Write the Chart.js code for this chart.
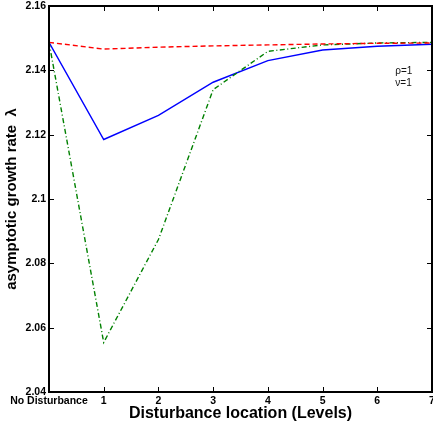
<!DOCTYPE html>
<html><head><meta charset="utf-8">
<script src="https://cdn.jsdelivr.net/npm/chart.js@4"></script>
<style>html,body{margin:0;padding:0;background:#fff}#wrap{width:433px;height:430px}</style>
</head><body><div id="wrap"><canvas id="c" width="433" height="430"></canvas></div>
<script>
const levels = [0, 1, 2, 3, 4, 5, 6, 7];
const xTickLabels = ["No Disturbance", "1", "2", "3", "4", "5", "6", "7"];
const yTicks = [2.04, 2.06, 2.08, 2.1, 2.12, 2.14, 2.16];
const blueSeries = [2.1487, 2.1185, 2.1260, 2.1363, 2.1430, 2.1463, 2.1475, 2.1481];
const redSeries = [2.1487, 2.1466, 2.1472, 2.1476, 2.1479, 2.1482, 2.1484, 2.1485];
const greenSeries = [2.1487, 2.0554, 2.0874, 2.1340, 2.1459, 2.1479, 2.1485, 2.1487];
const annotations = [{x: 6.33, y: 2.1397, text: "\u03c1=1"}, {x: 6.33, y: 2.1359, text: "\u03bd=1"}];

const FONT = "'Liberation Sans', Arial, Helvetica, sans-serif";
const toPts = arr => arr.map((v, i) => ({x: levels[i], y: v}));

const frame = {
  id: 'frame',
  afterDatasetsDraw(chart) {
    const {ctx, chartArea: a, scales: {x, y}} = chart;
    ctx.save();
    ctx.strokeStyle = '#000';
    ctx.lineWidth = 1;
    const t = 5;
    ctx.beginPath();
    for (const v of levels) {
      const px = Math.round(x.getPixelForValue(v)) + 0.5;
      ctx.moveTo(px, a.top); ctx.lineTo(px, a.top + t);
      ctx.moveTo(px, a.bottom); ctx.lineTo(px, a.bottom - t);
    }
    for (const v of yTicks) {
      const py = Math.round(y.getPixelForValue(v)) + 0.5;
      ctx.moveTo(a.left, py); ctx.lineTo(a.left + t, py);
      ctx.moveTo(a.right, py); ctx.lineTo(a.right - t, py);
    }
    ctx.stroke();
    ctx.lineWidth = 2;
    ctx.strokeRect(a.left, a.top, a.right - a.left, a.bottom - a.top);
    ctx.fillStyle = '#111';
    ctx.font = '10px ' + FONT;
    ctx.textAlign = 'left';
    ctx.textBaseline = 'middle';
    for (const an of annotations) {
      ctx.fillText(an.text, x.getPixelForValue(an.x), y.getPixelForValue(an.y));
    }
    ctx.restore();
  }
};

new Chart(document.getElementById('c'), {
  type: 'line',
  data: {
    datasets: [
      {data: toPts(redSeries), borderColor: '#ff0000', borderWidth: 1.4, borderDash: [5, 3], pointRadius: 0, tension: 0, fill: false},
      {data: toPts(greenSeries), borderColor: '#008000', borderWidth: 1.4, borderDash: [5, 2.5, 1, 2.5], pointRadius: 0, tension: 0, fill: false},
      {data: toPts(blueSeries), borderColor: '#0000ff', borderWidth: 1.4, pointRadius: 0, tension: 0, fill: false}
    ]
  },
  options: {
    responsive: false,
    animation: false,
    devicePixelRatio: 1,
    layout: {padding: {top: 6, right: 1, left: 0, bottom: 0}},
    plugins: {legend: {display: false}, tooltip: {enabled: false}},
    scales: {
      x: {
        type: 'linear', min: 0, max: 7,
        grid: {display: false, drawTicks: false},
        border: {display: false},
        afterBuildTicks(s) { s.ticks = levels.map(v => ({value: v})); },
        afterFit(s) { s.height = 38; s.paddingLeft = 0; s.paddingRight = 0; },
        ticks: {
          padding: 3, maxRotation: 0, autoSkip: false, color: '#000',
          font: {family: FONT, size: 10.5, weight: 'bold'},
          callback: (v) => xTickLabels[levels.indexOf(v)]
        },
        title: {display: true, text: 'Disturbance location (Levels)', color: '#000',
          font: {family: FONT, size: 16, weight: 'bold'}, padding: {top: 0, bottom: 7}}
      },
      y: {
        type: 'linear', min: 2.04, max: 2.16,
        grid: {display: false, drawTicks: false},
        border: {display: false},
        afterBuildTicks(s) { s.ticks = yTicks.map(v => ({value: v})); },
        afterFit(s) { s.width = 49; s.paddingTop = 0; s.paddingBottom = 0; },
        ticks: {
          padding: 3, color: '#000',
          font: {family: FONT, size: 10.5, weight: 'bold'},
          callback: (v) => String(Math.round(v * 100) / 100)
        },
        title: {display: true, text: 'asymptotic growth rate  \u03bb', color: '#000',
          font: {family: FONT, size: 15, weight: 'bold'}, padding: {top: 3, bottom: 0}}
      }
    }
  },
  plugins: [frame]
});
</script></body></html>
